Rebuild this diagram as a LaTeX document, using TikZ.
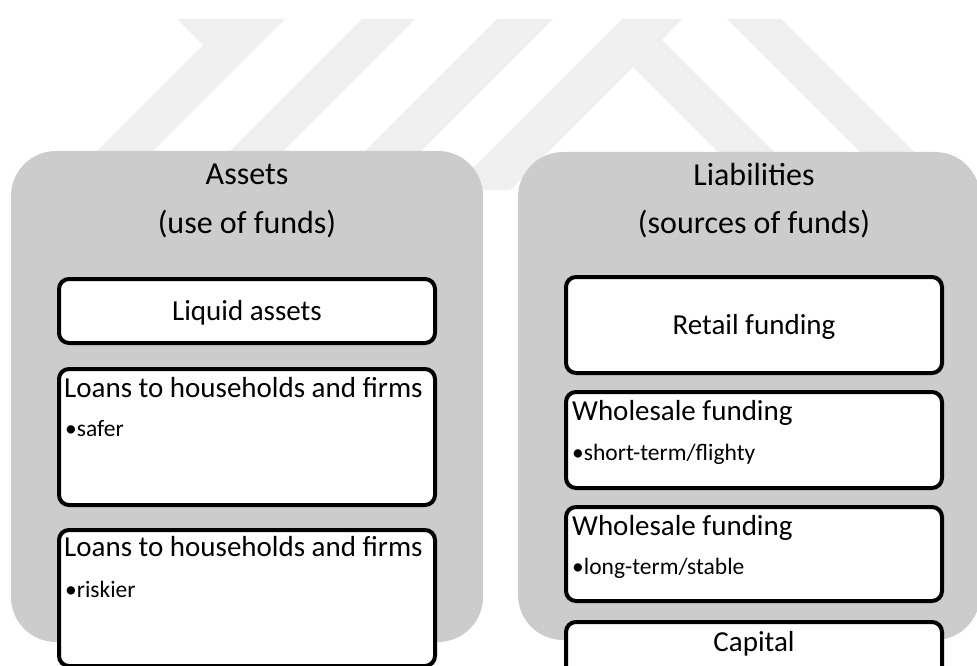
\documentclass[tikz,border=0pt]{standalone}
\usepackage{fontspec}
\setmainfont{Carlito}
\usetikzlibrary{calc, positioning}
\definecolor{panelgray}{RGB}{204,204,204}
\definecolor{markgray}{RGB}{239,239,239}

\begin{document}
\begin{tikzpicture}[
    x=1pt, y=-1pt,
    panel/.style={rounded corners=45pt, fill=panelgray, inner sep=0pt},
    item box/.style={draw, line width=4pt, rounded corners=10pt, fill=white, inner sep=0pt, minimum width=376pt},
    head text/.style={font=\fontsize{32}{38}\selectfont, anchor=base},
    item text/.style={font=\fontsize{29}{35}\selectfont, anchor=base},
    title text/.style={font=\fontsize{29}{35}\selectfont, anchor=base west, inner sep=0pt},
    note text/.style={font=\fontsize{23.5}{28}\selectfont, anchor=base west, inner sep=0pt}
]
\useasboundingbox (0,0) rectangle (977,666);
\clip (0,0) rectangle (977,666);

% Watermark
\fill[markgray] (177,19) -- (285,19) -- (114,190) -- (58,190) -- (203,45) -- cycle;
\fill[markgray] (362,19) -- (415,19) -- (244,190) -- (191,190) -- cycle;
\fill[markgray] (497,19) -- (553,19) -- (382,190) -- (326,190) -- cycle;
\fill[markgray] (622,19) -- (682,19) -- (662,40) -- (812,190) -- (756,190) -- (633,67) -- (510,190) -- (451,190) -- cycle;
\fill[markgray] (727,19) -- (781,19) -- (952,190) -- (898,190) -- cycle;

% Panels
\node[panel, minimum width=472pt, minimum height=491pt] (assets) at (247,396.5) {};
\node[panel, minimum width=462pt, minimum height=488pt] (liab) at (749,396) {};

\node[head text] (assetsT) at (247,184) {Assets};
\node[head text] (assetsS) at (247,233) {(use of funds)};
\node[head text] (liabT) at (754,185) {Liabilities};
\node[head text] (liabS) at (754,233) {(sources of funds)};

% Asset items
\node[item box, minimum height=64pt] (liquid) at (247,311) {};
\node[item box, minimum height=136pt] (loansA) at (247,437) {};
\node[item box, minimum height=136pt] (loansB) at (247,598) {};

\node[item text] at (247,320) {Liquid assets};
\node[title text] at (64,397) {Loans to households and firms};
\node[note text] at (65,436) {•safer};
\node[title text] at (64,556) {Loans to households and firms};
\node[note text] at (65,597) {•riskier};

% Liability items
\node[item box, minimum height=96pt] (retail) at (754,325) {};
\node[item box, minimum height=96pt] (wholeA) at (754,440) {};
\node[item box, minimum height=94pt] (wholeB) at (754,554) {};
\node[item box, minimum height=98pt] (capital) at (754,671) {};

\node[item text] at (754,334) {Retail funding};
\node[title text] at (572,420) {Wholesale funding};
\node[note text] at (572,460) {•short-term/flighty};
\node[title text] at (572,535) {Wholesale funding};
\node[note text] at (572,574) {•long-term/stable};
\node[item text] at (754,651) {Capital};
\end{tikzpicture}
\end{document}
